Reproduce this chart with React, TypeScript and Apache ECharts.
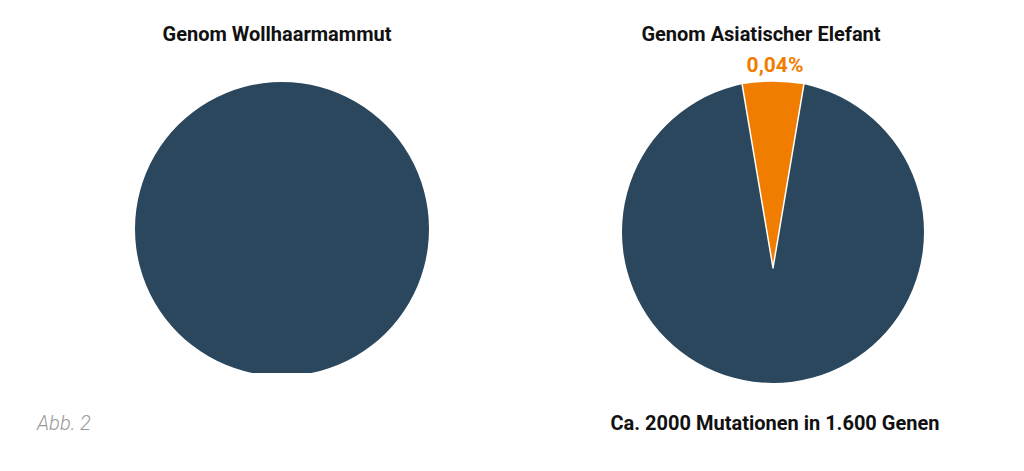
import React, { useEffect, useRef } from "react";
import * as echarts from "echarts";

const leftTitle = "Genom Wollhaarmammut";
const rightTitle = "Genom Asiatischer Elefant";
const footnote = "Ca. 2000 Mutationen in 1.600 Genen";
const figLabel = "Abb. 2";

const mammothNames = ["Genom"];
const mammothValues = [100];

const elephantBaseNames = ["Genom"];
const elephantBaseValues = [100];
const elephantNames = ["Mutationen", "Übriges Genom"];
const elephantValues = [5.3, 94.7];
const elephantLabel = "0,04%";

const NAVY = "#2a475d";
const ORANGE = "#f07d00";

export default function App() {
  const ref = useRef<HTMLDivElement>(null);
  useEffect(() => {
    document.body.style.margin = "0";
    const chart = echarts.init(ref.current!, undefined, { renderer: "svg" });
    const font = "Roboto";
    chart.setOption({
      animation: false,
      backgroundColor: "#ffffff",
      textStyle: { fontFamily: font },
      series: [
        {
          type: "pie",
          center: [282, 229],
          radius: [0, 147],
          silent: true,
          label: { show: false },
          labelLine: { show: false },
          itemStyle: { color: NAVY },
          data: mammothNames.map((n, i) => ({ name: n, value: mammothValues[i] })),
        },
        {
          type: "pie",
          center: [773, 232],
          radius: [0, 151],
          silent: true,
          label: { show: false },
          labelLine: { show: false },
          itemStyle: { color: NAVY },
          data: elephantBaseNames.map((n, i) => ({ name: n, value: elephantBaseValues[i] })),
        },
        {
          type: "pie",
          center: [773, 268],
          radius: [0, 187],
          startAngle: 90 + (elephantValues[0] / 100) * 180,
          clockwise: true,
          silent: true,
          z: 3,
          label: { show: false },
          labelLine: { show: false },
          data: elephantNames.map((n, i) => ({
            name: n,
            value: elephantValues[i],
            itemStyle:
              i === 0
                ? { color: ORANGE, borderColor: "#ffffff", borderWidth: 1.5 }
                : { color: "transparent", borderWidth: 0 },
          })),
        },
      ],
      graphic: [
        {
          type: "rect",
          z: 100,
          shape: { x: 200, y: 373, width: 170, height: 8 },
          style: { fill: "#ffffff" },
        },
        {
          type: "text",
          x: 277,
          y: 34,
          style: {
            text: leftTitle,
            fontFamily: font,
            fontWeight: "bold",
            fontSize: 20,
            fill: "#111111",
            align: "center",
            verticalAlign: "middle",
          },
        },
        {
          type: "text",
          x: 761,
          y: 34,
          style: {
            text: rightTitle,
            fontFamily: font,
            fontWeight: "bold",
            fontSize: 20,
            fill: "#111111",
            align: "center",
            verticalAlign: "middle",
          },
        },
        {
          type: "text",
          x: 775,
          y: 65,
          style: {
            text: elephantLabel,
            fontFamily: font,
            fontWeight: "bold",
            fontSize: 21,
            fill: ORANGE,
            align: "center",
            verticalAlign: "middle",
          },
        },
        {
          type: "text",
          x: 775,
          y: 423,
          style: {
            text: footnote,
            fontFamily: font,
            fontWeight: "bold",
            fontSize: 20,
            fill: "#111111",
            align: "center",
            verticalAlign: "middle",
          },
        },
        {
          type: "text",
          x: 37,
          y: 423,
          style: {
            text: figLabel,
            fontFamily: font,
            fontStyle: "italic",
            fontWeight: 300,
            fontSize: 20,
            fill: "#9a9a9a",
            align: "left",
            verticalAlign: "middle",
          },
        },
      ],
    });
    return () => chart.dispose();
  }, []);
  return <div ref={ref} style={{ width: 1024, height: 471 }} />;
}
